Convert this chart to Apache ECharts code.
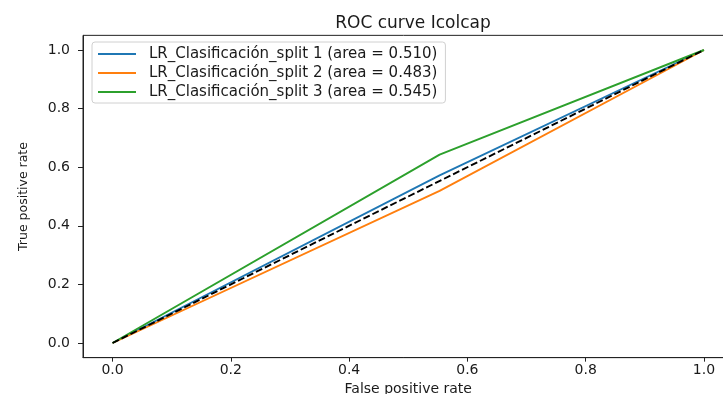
<!DOCTYPE html>
<html>
<head>
<meta charset="utf-8">
<script src="https://cdn.jsdelivr.net/npm/echarts@6/dist/echarts.min.js"></script>
<style>html,body{margin:0;padding:0;background:#fff}#c{width:723px;height:394px}</style>
</head>
<body>
<div id="c"></div>
<script>
const titleText = 'ROC curve Icolcap';
const xName = 'False positive rate';
const yName = 'True positive rate';
const xTicks = [0, 0.2, 0.4, 0.6, 0.8, 1.0];
const yTicks = [0, 0.2, 0.4, 0.6, 0.8, 1.0];
const seriesNames = [
  'LR_Clasificación_split 1 (area = 0.510)',
  'LR_Clasificación_split 2 (area = 0.483)',
  'LR_Clasificación_split 3 (area = 0.545)'
];
const fpr1 = [0, 0.553, 1];
const tpr1 = [0, 0.572, 1];
const fpr2 = [0, 0.553, 1];
const tpr2 = [0, 0.519, 1];
const fpr3 = [0, 0.553, 1];
const tpr3 = [0, 0.643, 1];
const chanceX = [0, 1];
const chanceY = [0, 1];
const colors = ['#1f77b4', '#ff7f0e', '#2ca02c'];

const font = 'DejaVu Sans';
const pairs = (xs, ys) => xs.map((x, i) => [x, ys[i]]);
const curves = [[fpr1, tpr1], [fpr2, tpr2], [fpr3, tpr3]];

const chart = echarts.init(document.getElementById('c'));
const series = curves.map((c, i) => ({
  name: seriesNames[i],
  type: 'line',
  data: pairs(c[0], c[1]),
  showSymbol: false,
  symbol: 'none',
  color: colors[i],
  lineStyle: { color: colors[i], width: 1.9 },
  z: 2 + i
}));
series.push({
  name: 'chance',
  type: 'line',
  data: pairs(chanceX, chanceY),
  showSymbol: false,
  symbol: 'none',
  lineStyle: { color: '#000', width: 1.9, type: [7, 3] },
  z: 6
});

chart.setOption({
  animation: false,
  backgroundColor: '#fff',
  title: {
    text: titleText,
    left: 408,
    top: 10,
    textAlign: 'center',
    textStyle: { fontFamily: font, fontSize: 17, fontWeight: 'normal', color: '#1a1a1a' }
  },
  legend: {
    data: seriesNames,
    orient: 'vertical',
    left: 92,
    top: 42,
    padding: [4, 8, 3, 6],
    itemGap: 3,
    itemWidth: 38,
    itemHeight: 2,
    icon: 'rect',
    borderColor: '#d0d0d0',
    borderWidth: 1,
    borderRadius: 3,
    backgroundColor: 'rgba(255,255,255,0.8)',
    textStyle: { fontFamily: font, fontSize: 15, color: '#1a1a1a', lineHeight: 16, padding: [0, 0, 0, 8] }
  },
  grid: {
    left: 83,
    top: 35.35,
    right: -10.5,
    bottom: 36.35,
    show: true,
    borderColor: '#222',
    borderWidth: 1,
    containLabel: false,
    outerBoundsMode: 'none'
  },
  xAxis: {
    type: 'value',
    min: -0.05,
    max: 1.05,
    name: xName,
    nameLocation: 'middle',
    nameGap: 16,
    nameTextStyle: { fontFamily: font, fontSize: 14, color: '#1a1a1a', verticalAlign: 'top' },
    axisLine: { show: true, onZero: false, lineStyle: { color: '#222', width: 1 } },
    axisTick: { show: true, length: 4, customValues: xTicks, lineStyle: { color: '#222' } },
    axisLabel: { customValues: xTicks, margin: 6, fontFamily: font, fontSize: 14, color: '#1a1a1a', formatter: v => v.toFixed(1) },
    splitLine: { show: false }
  },
  yAxis: {
    type: 'value',
    min: -0.05,
    max: 1.05,
    name: yName,
    nameLocation: 'middle',
    nameGap: 53,
    nameTextStyle: { fontFamily: font, fontSize: 12.5, color: '#1a1a1a' },
    axisLine: { show: true, onZero: false, lineStyle: { color: '#222', width: 1 } },
    axisTick: { show: true, length: 5, customValues: yTicks, lineStyle: { color: '#222' } },
    axisLabel: { customValues: yTicks, margin: 13, fontFamily: font, fontSize: 14, color: '#1a1a1a', formatter: v => v.toFixed(1) },
    splitLine: { show: false }
  },
  series: series
});
</script>
</body>
</html>
